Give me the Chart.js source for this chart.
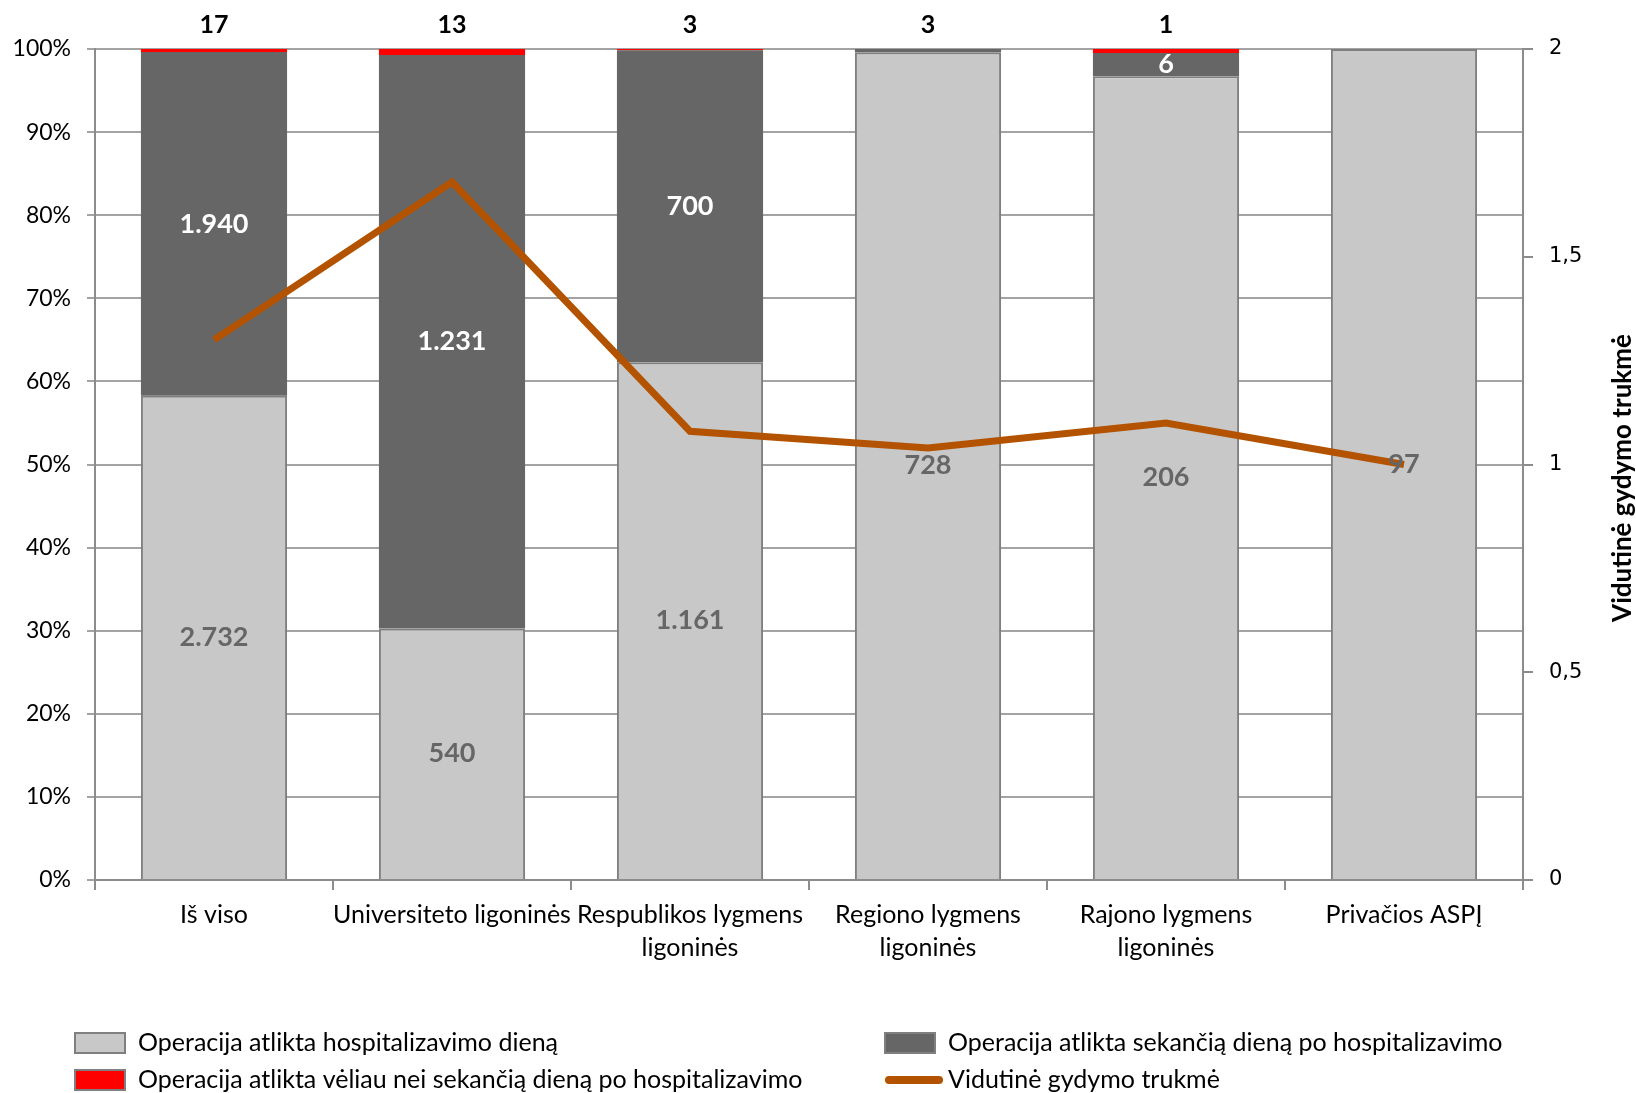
<!DOCTYPE html>
<html>
<head>
<meta charset="utf-8">
<script src="https://cdn.jsdelivr.net/npm/chart.js@4.4.0/dist/chart.umd.min.js"></script>
<style>
  html, body { margin: 0; padding: 0; background: #fff; }
  #wrap { width: 1636px; height: 1093px; }
</style>
</head>
<body>
<div id="wrap"><canvas id="chart" width="1636" height="1093"></canvas></div>
<script>
const categories = ['Iš viso', 'Universiteto ligoninės', ['Respublikos lygmens', 'ligoninės'],
    ['Regiono lygmens', 'ligoninės'], ['Rajono lygmens', 'ligoninės'], 'Privačios ASPĮ'];
const sameDay = [2732, 540, 1161, 728, 206, 97];
const nextDay = [1940, 1231, 700, 3, 6, 0];
const laterDay = [17, 13, 3, 0, 1, 0];
const avgStay = [1.30, 1.68, 1.08, 1.04, 1.10, 1.00];

const seriesNames = [
    'Operacija atlikta hospitalizavimo dieną',
    'Operacija atlikta sekančią dieną po hospitalizavimo',
    'Operacija atlikta vėliau nei sekančią dieną po hospitalizavimo',
    'Vidutinė gydymo trukmė'
];

const FONT = 'Lato, "Open Sans", sans-serif';
const totals = sameDay.map((v, i) => v + nextDay[i] + laterDay[i]);
const pct = arr => arr.map((v, i) => v / totals[i] * 100);
const fmt = n => String(n).replace(/\B(?=(\d{3})+(?!\d))/g, '.');
const fmtRight = v => String(v).replace('.', ',');

const labelPlugin = {
    id: 'labels',
    afterDatasetsDraw(chart) {
        const ctx = chart.ctx;
        const counts = [sameDay, nextDay, laterDay];
        ctx.save();
        ctx.textAlign = 'center';
        ctx.textBaseline = 'middle';
        for (let d = 0; d < 3; d++) {
            const meta = chart.getDatasetMeta(d);
            meta.data.forEach((bar, i) => {
                const v = counts[d][i];
                if (!v) return;
                const h = Math.abs(bar.base - bar.y);
                if (d === 2 || h < 14) {
                    ctx.font = 'bold 25px ' + FONT;
                    ctx.fillStyle = '#000';
                    ctx.fillText(fmt(v), bar.x, chart.chartArea.top - 24);
                } else {
                    ctx.font = 'bold 27px ' + FONT;
                    ctx.fillStyle = d === 0 ? '#666666' : '#ffffff';
                    ctx.fillText(fmt(v), bar.x, (bar.y + bar.base) / 2);
                }
            });
        }
        ctx.restore();
    },
    afterDraw(chart) {
        const ctx = chart.ctx;

        // right axis tick labels, left aligned next to the axis
        const y1 = chart.scales.y1;
        ctx.save();
        ctx.font = '21px "DejaVu Sans"';
        ctx.fillStyle = '#000';
        ctx.textAlign = 'left';
        ctx.textBaseline = 'middle';
        y1.ticks.forEach(t => {
            ctx.fillText(fmtRight(t.value), y1.left + 26, y1.getPixelForValue(t.value));
        });
        ctx.restore();

        // right axis title, reading bottom to top
        ctx.save();
        ctx.translate(1623, 478);
        ctx.rotate(-Math.PI / 2);
        ctx.font = 'bold 26px ' + FONT;
        ctx.fillStyle = '#000';
        ctx.textAlign = 'center';
        ctx.textBaseline = 'middle';
        ctx.fillText(seriesNames[3], 0, 0);
        ctx.restore();

        // legend
        const items = [
            { x: 75, y: 1043, i: 0 }, { x: 885, y: 1043, i: 1 },
            { x: 75, y: 1080, i: 2 }, { x: 885, y: 1080, i: 3 }
        ];
        ctx.save();
        ctx.font = '25px ' + FONT;
        ctx.textBaseline = 'middle';
        items.forEach(it => {
            const ds = chart.data.datasets[it.i];
            if (ds.type === 'line') {
                ctx.strokeStyle = ds.borderColor;
                ctx.lineWidth = 8;
                ctx.lineCap = 'round';
                ctx.beginPath();
                ctx.moveTo(it.x + 4, it.y);
                ctx.lineTo(it.x + 54, it.y);
                ctx.stroke();
            } else {
                ctx.fillStyle = ds.backgroundColor;
                ctx.fillRect(it.x, it.y - 10, 50, 20);
                ctx.strokeStyle = '#7f7f7f';
                ctx.lineWidth = 2;
                ctx.strokeRect(it.x, it.y - 10, 50, 20);
            }
            ctx.fillStyle = '#000';
            ctx.fillText(ds.label, it.x + 63, it.y);
        });
        ctx.restore();
    }
};

new Chart(document.getElementById('chart'), {
    data: {
        labels: categories,
        datasets: [
            {
                type: 'bar', label: seriesNames[0], data: pct(sameDay),
                backgroundColor: '#c8c8c8', borderColor: '#7f7f7f', borderWidth: 2,
                yAxisID: 'y', order: 1
            },
            {
                type: 'bar', label: seriesNames[1], data: pct(nextDay),
                backgroundColor: '#666666', borderColor: '#666666', borderWidth: 0,
                yAxisID: 'y', order: 1
            },
            {
                type: 'bar', label: seriesNames[2], data: pct(laterDay),
                backgroundColor: '#ff0000', borderWidth: 0,
                yAxisID: 'y', order: 1
            },
            {
                type: 'line', label: seriesNames[3], data: avgStay,
                borderColor: '#b35300', borderWidth: 7, pointRadius: 0,
                tension: 0, yAxisID: 'y1', order: 0
            }
        ]
    },
    options: {
        responsive: false,
        animation: false,
        datasets: { bar: { categoryPercentage: 1, barPercentage: 0.614 } },
        layout: { padding: { top: 49, left: 0, right: 0, bottom: 0 } },
        plugins: { legend: { display: false }, tooltip: { enabled: false } },
        scales: {
            x: {
                stacked: true,
                afterFit: s => { s.height = 213; },
                grid: { offset: true, drawOnChartArea: false, color: '#8c8c8c', lineWidth: 2, tickLength: 10 },
                border: { color: '#8c8c8c', width: 2 },
                ticks: { color: '#000', font: { family: FONT, size: 25, lineHeight: 1.33 }, padding: 8, maxRotation: 0, autoSkip: false }
            },
            y: {
                stacked: true, min: 0, max: 100,
                afterFit: s => { s.width = 95; },
                ticks: { stepSize: 10, callback: v => v + '%', color: '#000', font: { family: FONT, size: 23 }, padding: 16 },
                grid: { color: '#a3a3a3', lineWidth: 2, tickLength: 8 },
                border: { color: '#8c8c8c', width: 2 }
            },
            y1: {
                position: 'right', min: 0, max: 2,
                afterFit: s => { s.width = 113; },
                ticks: { stepSize: 0.5, callback: fmtRight, color: 'rgba(0,0,0,0)', font: { family: 'DejaVu Sans', size: 21 }, padding: 16 },
                grid: { drawOnChartArea: false, color: '#8c8c8c', lineWidth: 2, tickLength: 10 },
                border: { color: '#8c8c8c', width: 2 }
            }
        }
    },
    plugins: [labelPlugin]
});
</script>
</body>
</html>
